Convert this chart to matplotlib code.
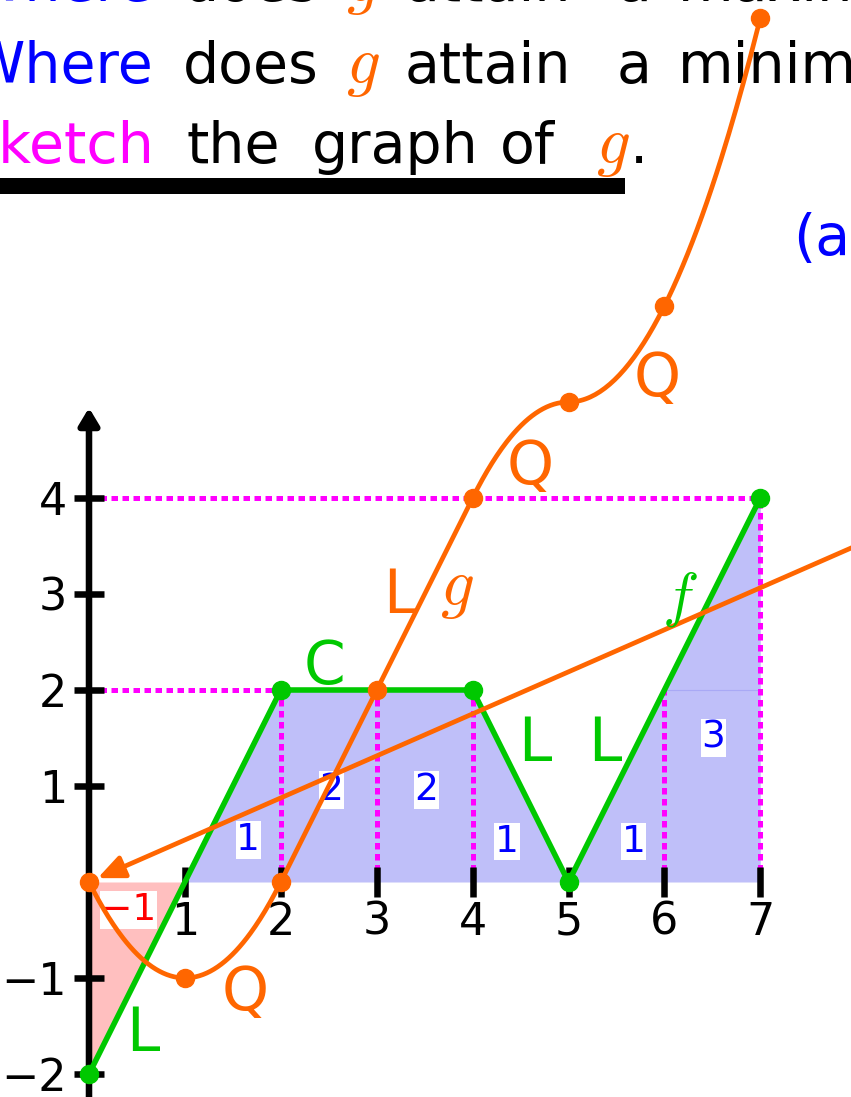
import numpy as np
import matplotlib.pyplot as plt
from matplotlib.patches import Rectangle

plt.rcParams['font.family'] = ['DejaVu Sans']
plt.rcParams['mathtext.fontset'] = 'cm'

W, H = 851, 1097
ORANGE = '#ff6600'
GREEN = '#00c800'
MAGENTA = '#ff00ff'
BLUE = '#0000ff'
FILL_POS = '#bfbff9'
FILL_NEG = '#ffbfbf'

# f: piecewise linear through these nodes
f_x = [0, 1, 2, 4, 5, 7]
f_y = [-2, 0, 2, 2, 0, 4]
f_dot_x = [0, 2, 4, 5, 7]
f_dot_y = [-2, 2, 2, 0, 4]

# g(x) = integral of f from 0, marked at the integers
g_x = [0, 1, 2, 3, 4, 5, 6, 7]
g_y = [0, -1, 0, 2, 4, 5, 6, 9]

# straight orange arrow ending at the origin
arrow_tail = (9.0, 3.94)
arrow_head = (0.09, 0.04)

# signed areas of each strip
area_x = [1.66, 2.53, 3.52, 4.36, 5.68, 6.51]
area_y = [0.44, 0.96, 0.96, 0.42, 0.42, 1.50]
area_txt = ['1', '2', '2', '1', '1', '3']
neg_area = (0.41, -0.29, '\u22121')

drop_x = [2, 3, 4, 6, 7]
level_y = [4, 2]
level_x_end = [7, 2]

xticks = [1, 2, 3, 4, 5, 6, 7]
yticks = [-2, -1, 1, 2, 3, 4]

# piece labels: (x, y, text, color)
piece_labels = [
    (2.46, 2.23, 'C', GREEN),
    (4.65, 1.43, 'L', GREEN),
    (5.38, 1.43, 'L', GREEN),
    (0.56, -1.59, 'L', GREEN),
    (3.24, 2.97, 'L', ORANGE),
    (4.60, 4.32, 'Q', ORANGE),
    (5.92, 5.23, 'Q', ORANGE),
    (1.63, -1.16, 'Q', ORANGE),
]
math_labels = [
    (6.16, 2.94, r'$f$', GREEN, 44),
    (3.84, 3.06, r'$g$', ORANGE, 48),
]

# heading rows: baseline (px from top), then (word, colour, x px); first word ends at x
heading = [
    (1, [('Where', BLUE, 153), ('does', 'black', 183), (r'$g$', ORANGE, 346),
         ('attain', 'black', 405), ('a', 'black', 617), ('maximum?', 'black', 678)]),
    (83, [('Where', BLUE, 153), ('does', 'black', 183), (r'$g$', ORANGE, 346),
          ('attain', 'black', 405), ('a', 'black', 617), ('minimum?', 'black', 678)]),
    (163, [('Sketch', MAGENTA, 154), ('the', 'black', 187), ('graph', 'black', 312),
           ('of', 'black', 500), (r'$g$', ORANGE, 596), ('.', 'black', 630)]),
]

fig = plt.figure(figsize=(W / 100, H / 100), dpi=100)
ax = fig.add_axes([0, 0, 1, 1])
ax.set_xlim(-89 / 95.9, (W - 89) / 95.9)
ax.set_ylim(-(H - 882) / 96, 882 / 96)
ax.axis('off')

# --- heading ---
for base, words in heading:
    for i, (s, c, x) in enumerate(words):
        ax.text(x / W, 1 - base / H, s, color=c, fontsize=48 if s.startswith('$') else 41,
                va='baseline', ha='right' if i == 0 else 'left',
                transform=ax.transAxes, zorder=1)
ax.text(793 / W, 1 - 255 / H, '(a', color=BLUE, fontsize=41, va='baseline',
        transform=ax.transAxes, zorder=1)
ax.add_patch(Rectangle((0, 1 - 194 / H), 625 / W, 16 / H, transform=ax.transAxes,
                       color='black', lw=0, zorder=1))

# --- shaded areas ---
xs = np.linspace(0, 7, 701)
fs = np.interp(xs, f_x, f_y)
ax.fill_between(xs, fs, 0, where=xs <= 1, color=FILL_NEG, lw=0, zorder=2)
ax.fill_between(xs, fs, 0, where=xs >= 1, color=FILL_POS, lw=0, zorder=2)
ax.plot([6, 7], [2, 2], color='#a9a9f5', lw=0.8, zorder=2)

# --- dotted guides ---
dot = dict(color=MAGENTA, lw=3.6, ls=(0, (1.3, 0.9)), dash_capstyle='butt', zorder=3)
for xd in drop_x:
    ax.plot([xd, xd], [0, np.interp(xd, f_x, f_y)], **dot)
for yl, xe in zip(level_y, level_x_end):
    ax.plot([0, xe], [yl, yl], **dot)

# --- axes with arrows ---
axis_arrow = dict(arrowstyle='-|>,head_length=0.5,head_width=0.3', color='black',
                  lw=4.7, mutation_scale=20, shrinkA=0, shrinkB=0)
ax.annotate('', xy=(8.1, 0), xytext=(-0.67, 0), zorder=4, arrowprops=axis_arrow)
ax.annotate('', xy=(0, 4.94), xytext=(0, -2.4), zorder=4, arrowprops=axis_arrow)
for t in xticks:
    ax.plot([t, t], [-0.16, 0.16], color='black', lw=4.7, solid_capstyle='butt', zorder=4)
    ax.text(t, -0.55, str(t), fontsize=32, ha='center', va='baseline', zorder=4)
for t in yticks:
    ax.plot([-0.16, 0.16], [t, t], color='black', lw=4.7, solid_capstyle='butt', zorder=4)
    ax.text(-0.23, t - 0.172, str(t).replace('-', '\u2212'), fontsize=32,
            ha='right', va='baseline', zorder=4)

# --- area values ---
box = dict(fc='white', ec='none', pad=0.5)
for x, y, s in zip(area_x, area_y, area_txt):
    ax.text(x, y, s, color=BLUE, fontsize=27, ha='center', va='center', bbox=box, zorder=5)
ax.text(neg_area[0], neg_area[1], neg_area[2], color='red', fontsize=27,
        ha='center', va='center', bbox=box, zorder=5)

# --- f ---
ax.plot(f_x, f_y, color=GREEN, lw=4, zorder=6)

# --- g, the running integral of f ---
gx, gy, g0 = [], [], 0.0
for x0, x1, y0, y1 in zip(f_x[:-1], f_x[1:], f_y[:-1], f_y[1:]):
    h = x1 - x0
    t = np.linspace(0, h, 80)
    gx.append(x0 + t)
    gy.append(g0 + y0 * t + (y1 - y0) / (2 * h) * t ** 2)
    g0 += (y0 + y1) / 2 * h
ax.plot(np.concatenate(gx), np.concatenate(gy), color=ORANGE, lw=3.4, zorder=7)

ax.annotate('', xy=arrow_head, xytext=arrow_tail, zorder=7,
            arrowprops=dict(arrowstyle='-|>,head_length=0.8,head_width=0.35', color=ORANGE,
                            lw=3.4, mutation_scale=20, shrinkA=0, shrinkB=0))

ax.plot(f_dot_x, f_dot_y, 'o', color=GREEN, ms=13, zorder=8)
ax.plot(g_x, g_y, 'o', color=ORANGE, ms=13, zorder=8)

for x, y, s, c in piece_labels:
    ax.text(x, y, s, color=c, fontsize=43, ha='center', va='center', zorder=9)
for x, y, s, c, size in math_labels:
    ax.text(x, y, s, color=c, fontsize=size, ha='center', va='center', zorder=9)

fig.savefig('out.png', dpi=100)
